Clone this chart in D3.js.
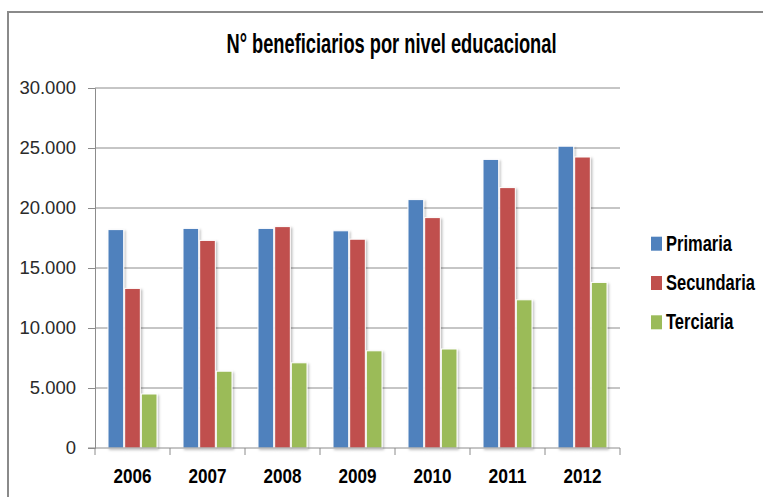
<!DOCTYPE html>
<html>
<head>
<meta charset="utf-8">
<script src="https://cdn.jsdelivr.net/npm/d3@7"></script>
<style>
  body { margin: 0; background: #fff; }
  svg { display: block; font-family: "Liberation Sans", Arial, sans-serif; }
</style>
</head>
<body>
<div id="chart"></div>
<script>
// data
const years = ["2006", "2007", "2008", "2009", "2010", "2011", "2012"];
const series = ["Primaria", "Secundaria", "Terciaria"];
const primaria = [18200, 18300, 18300, 18100, 20700, 24050, 25150];
const secundaria = [13300, 17300, 18450, 17400, 19200, 21700, 24250];
const terciaria = [4500, 6400, 7100, 8100, 8250, 12350, 13800];
const yTicks = [0, 5000, 10000, 15000, 20000, 25000, 30000];
const colors = ["#4F81BD", "#C0504D", "#9BBB59"];

const values = [primaria, secundaria, terciaria];
const rows = years.map((y, i) => ({ year: y, vals: series.map((s, j) => ({ key: s, value: values[j][i] })) }));

const width = 763, height = 497;
const svg = d3.select("#chart")
  .append("svg")
    .attr("width", width)
    .attr("height", height);

// soft shadow under bars
const defs = svg.append("defs");
defs.append("filter")
    .attr("id", "shadow")
    .attr("x", "-20%").attr("y", "-5%").attr("width", "150%").attr("height", "115%")
  .append("feDropShadow")
    .attr("dx", 1.5).attr("dy", 1.5).attr("stdDeviation", 1)
    .attr("flood-color", "#000").attr("flood-opacity", 0.25);

// outer frame (top and left edges only are visible)
svg.append("path")
  .attr("d", `M8,${height} L8,12 L${width},12`)
  .attr("fill", "none")
  .attr("stroke", "#8a8a8a")
  .attr("stroke-width", 2);

// title
svg.append("text")
  .attr("x", 391.5)
  .attr("y", 53)
  .attr("text-anchor", "middle")
  .attr("font-size", 27)
  .attr("font-weight", "bold")
  .attr("textLength", 330)
  .attr("lengthAdjust", "spacingAndGlyphs")
  .text("N° beneficiarios por nivel educacional");

// scales
const x = d3.scaleBand()
  .domain(years)
  .range([95, 620])
  .padding(0);
const x1 = d3.scaleBand()
  .domain(series)
  .range([12.5, 62.5]);
const y = d3.scaleLinear()
  .domain([0, 30000])
  .range([448, 88]);
const color = d3.scaleOrdinal(series, colors);

const fmt = d => d3.format(",")(d).replace(/,/g, ".");

// gridlines + y axis
const yAxis = svg.append("g")
  .attr("transform", "translate(95,0)")
  .call(d3.axisLeft(y).tickValues(yTicks).tickSize(7).tickPadding(12).tickFormat(fmt));
yAxis.select(".domain").attr("stroke", "#8c8c8c");
yAxis.selectAll(".tick line").attr("stroke", "#8c8c8c");
yAxis.selectAll(".tick text")
  .attr("font-size", 18.5)
  .attr("fill", "#2a2a2a")
  .attr("font-family", "'Liberation Sans', Arial, sans-serif");

svg.append("g")
  .selectAll("line")
  .data(yTicks.filter(d => d > 0))
  .join("line")
    .attr("x1", 95)
    .attr("x2", 620)
    .attr("y1", d => y(d))
    .attr("y2", d => y(d))
    .attr("stroke", "#8c8c8c")
    .attr("stroke-width", 1);

// bars
svg.append("g")
  .selectAll("g")
  .data(rows)
  .join("g")
    .attr("transform", d => `translate(${x(d.year)},0)`)
  .selectAll("rect")
  .data(d => d.vals)
  .join("rect")
    .attr("x", d => x1(d.key) + 0.5)
    .attr("y", d => y(d.value))
    .attr("width", x1.bandwidth() - 1)
    .attr("height", d => y(0) - y(d.value))
    .attr("fill", d => color(d.key))
    .attr("stroke", "#fff")
    .attr("stroke-width", 1)
    .attr("filter", "url(#shadow)");

// x axis
const xAxis = svg.append("g")
  .attr("transform", "translate(0,448)");
xAxis.append("line")
  .attr("x1", 88).attr("x2", 620)
  .attr("stroke", "#8c8c8c");
xAxis.selectAll(".xt")
  .data(d3.range(years.length + 1))
  .join("line")
    .attr("class", "xt")
    .attr("x1", i => 95 + i * x.step())
    .attr("x2", i => 95 + i * x.step())
    .attr("y1", 0)
    .attr("y2", 7)
    .attr("stroke", "#8c8c8c");
xAxis.selectAll("text")
  .data(years)
  .join("text")
    .attr("x", d => x(d) + x.bandwidth() / 2)
    .attr("y", 35)
    .attr("text-anchor", "middle")
    .attr("font-size", 21)
    .attr("font-weight", "bold")
    .attr("textLength", 38)
    .attr("lengthAdjust", "spacingAndGlyphs")
    .text(d => d);

// legend (text stretched vertically like the original)
const legend = svg.append("g")
  .selectAll("g")
  .data(series)
  .join("g")
    .attr("transform", (d, i) => `translate(651,${250.7 + i * 39.3})`);
legend.append("rect")
  .attr("x", 0)
  .attr("y", -14)
  .attr("width", 11)
  .attr("height", 14)
  .attr("fill", d => color(d));
legend.append("text")
  .attr("transform", "translate(15,0) scale(1,1.35)")
  .attr("font-size", 16.5)
  .attr("font-weight", "bold")
  .text(d => d);
</script>
</body>
</html>
